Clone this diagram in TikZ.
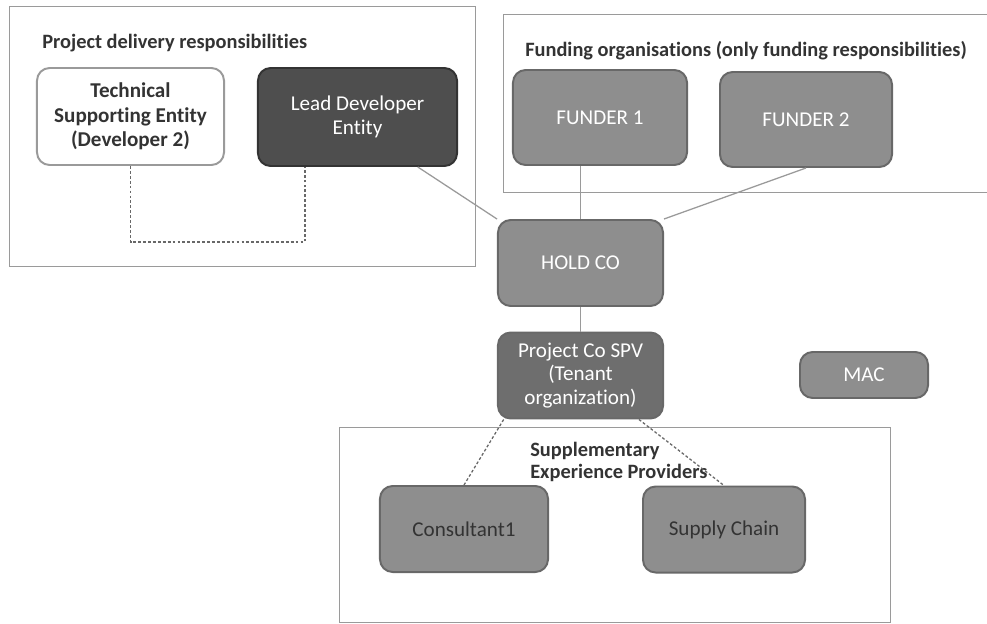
\documentclass[tikz,border=0pt]{standalone}
\usepackage{fontspec}
\setmainfont{Carlito}[Ligatures=NoCommon]
\usepackage{tikz}
\usetikzlibrary{calc,positioning}
\definecolor{boxgray}{HTML}{8E8E8E}
\definecolor{boxedge}{HTML}{686868}
\definecolor{darkbox}{HTML}{4E4E4E}
\definecolor{midbox}{HTML}{6E6E6E}
\definecolor{framegray}{HTML}{9A9A9A}
\definecolor{inkgray}{HTML}{333333}
\tikzset{
    entity/.style={
           rectangle,
           rounded corners=9pt,
           draw=boxedge, line width=1.4pt,
           fill=boxgray,
           text=white,
           align=center,
           font=\fontsize{15}{17}\selectfont,
           inner sep=2pt,
           },
    group/.style={
           rectangle,
           draw=framegray, line width=0.7pt,
           inner sep=0,
           },
    heading/.style={
           anchor=west,
           text=inkgray,
           align=left,
           font=\fontsize{14.5}{16}\selectfont\bfseries,
           inner sep=0,
           },
    link/.style={
           draw=framegray,
           line width=0.9pt,
           },
    duelink/.style={
           draw=boxedge,
           line width=0.9pt,
           dash pattern=on 2pt off 1.5pt,
           }
}

\begin{document}
\begin{tikzpicture}[x=0.025cm,y=-0.025cm]
\useasboundingbox[fill=white] (0,0) rectangle (987,624);
% the three frames
\node[group, minimum width=11.625cm, minimum height=6.475cm] (delivery) at (242.5,136.5) {};
\node[group, minimum width=12.3cm, minimum height=4.425cm] (funding) at (750,103.5) {};
\node[group, minimum width=13.75cm, minimum height=4.85cm] (suppliers) at (615,525) {};
\node[heading] (tdelivery) at (42,43) {Project delivery responsibilities};
\node[heading] (tfunding) at (525,51) {Funding organisations (only funding responsibilities)};
\node[heading, font=\fontsize{14.5}{15.5}\selectfont\bfseries] (tsuppliers) at (530,462) {Supplementary\\Experience Providers};
% entities
\node[entity, fill=white, draw=framegray, text=inkgray, font=\fontsize{15}{17.5}\selectfont\bfseries,
      minimum width=4.675cm, minimum height=2.425cm] (tech) at (130.5,116.5) {Technical\\Supporting Entity\\(Developer 2)};
\node[entity, fill=darkbox, draw=inkgray, minimum width=4.975cm, minimum height=2.45cm] (lead) at (357.5,117) {Lead Developer\\Entity};
\node[entity, minimum width=4.35cm, minimum height=2.375cm] (funder1) at (600,117.5) {FUNDER 1};
\node[entity, minimum width=4.3cm, minimum height=2.375cm] (funder2) at (806,119.5) {FUNDER 2};
\node[entity, minimum width=4.125cm, minimum height=2.15cm] (hold) at (580.5,263) {HOLD CO};
\node[entity, fill=midbox, draw=boxedge, minimum width=4.125cm, minimum height=2.15cm] (spv) at (580.5,375.5) {Project Co SPV\\(Tenant\\organization)};
\node[entity, minimum width=3.2cm, minimum height=1.15cm] (mac) at (864,375) {MAC};
\node[entity, text=inkgray, minimum width=4.2cm, minimum height=2.15cm] (cons) at (464,529) {Consultant1};
\node[entity, text=inkgray, minimum width=4.05cm, minimum height=2.15cm] (supply) at (724,529.5) {Supply Chain};
% connectors
\coordinate (turn) at (305,242);
\path[duelink] (tech.south) |- (turn) -- (turn |- lead.south);
\path[link] ($(lead.south)!0.6!(lead.south east)$) -- (hold.north west);
\path[link] (hold.north) -- (hold.north |- funder1.south);
\path[link] (funder2.south) -- (hold.north east);
\path[link] (hold) -- (spv);
\path[duelink] ($(spv.south west)!0.08!(spv.south)$) -- (cons.north);
\path[duelink] ($(spv.south)!0.7!(spv.south east)$) -- (supply.north);
\end{tikzpicture}
\end{document}
